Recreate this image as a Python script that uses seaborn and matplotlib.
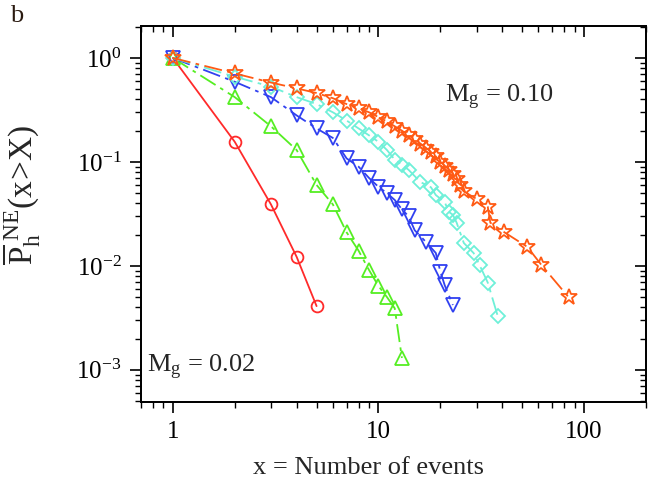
import numpy as np
import pandas as pd
import matplotlib
matplotlib.use("Agg")
import matplotlib.pyplot as plt
import seaborn as sns
from matplotlib import lines as mlines
from matplotlib.ticker import NullFormatter, FixedLocator

# ---- data ----
red_x = [1, 2, 3, 4, 5]
red_y = [1.0, 0.156, 0.039, 0.0122, 0.0041]

green_x = [1, 2, 3, 4, 5, 6, 7, 8, 9, 10, 11, 12, 13]
green_y = [1.0, 0.42, 0.22, 0.13, 0.060, 0.039, 0.021, 0.014, 0.0091, 0.0064, 0.0050, 0.0039, 0.0013]

blue_x = [1, 2, 3, 4, 5, 6, 7, 8, 9, 10, 11, 12, 13, 14, 15, 17, 19, 20, 21, 23]
blue_y = [1.0, 0.59, 0.42, 0.28, 0.21, 0.17, 0.108, 0.090, 0.070, 0.0575, 0.050, 0.043,
          0.035, 0.030, 0.022, 0.017, 0.0133, 0.0088, 0.0065, 0.0042]

cyan_x = [1, 2, 3, 4, 5, 6, 7, 8, 9, 10, 11, 12, 13, 14, 16, 18, 19, 21, 22, 23, 24, 26, 29, 31, 34, 38]
cyan_y = [1.0, 0.66, 0.53, 0.42, 0.36, 0.30, 0.25, 0.21, 0.18, 0.156, 0.13, 0.105, 0.094, 0.084,
          0.064, 0.057, 0.048, 0.041, 0.033, 0.031, 0.026, 0.0166, 0.0133, 0.0102, 0.0069, 0.0033]

star_x = [1, 2, 3, 4, 5, 6, 7, 8, 9, 10, 11, 12, 13, 14, 15, 16, 17, 18, 19, 20, 21, 22, 23,
          24, 25, 26, 30, 34, 35, 41, 53, 62, 84]
star_y = [1.0, 0.71, 0.58, 0.51, 0.46, 0.41, 0.36, 0.33, 0.30, 0.27, 0.245, 0.22, 0.20, 0.18,
          0.165, 0.15, 0.137, 0.125, 0.113, 0.100, 0.092, 0.084, 0.077, 0.068, 0.060, 0.052,
          0.044, 0.037, 0.026, 0.021, 0.0152, 0.0102, 0.0050]

series = [
    ("red", red_x, red_y, "#ff2a2a", "o", None, 8.5),
    ("green", green_x, green_y, "#55ee22", "^", (10, 3, 2, 3), 10),
    ("blue", blue_x, blue_y, "#3040f0", "v", (10, 3, 2, 3), 10),
    ("cyan", cyan_x, cyan_y, "#6ef0d8", "D", (10, 3, 2, 3), 7.5),
    ("star", star_x, star_y, "#ff5a14", "*", (10, 3, 2, 3), 12),
]

# ---- style ----
sns.set_theme(style="white")
plt.rcParams["font.family"] = ["Liberation Serif", "DejaVu Serif"]
plt.rcParams["mathtext.fontset"] = "custom"
plt.rcParams["mathtext.rm"] = "Liberation Serif"
plt.rcParams["mathtext.it"] = "Liberation Serif:italic"
plt.rcParams["mathtext.bf"] = "Liberation Serif:bold"
plt.rcParams["axes.unicode_minus"] = False

fig = plt.figure(figsize=(6.52, 4.88), dpi=100)
rect = [141 / 652, 1 - 402 / 488, 505 / 652, 376 / 488]
ax = fig.add_axes(rect)

for name, xs, ys, col, mk, dash, ms in series:
    df = pd.DataFrame({"x": xs, "y": ys})
    sns.lineplot(data=df, x="x", y="y", ax=ax, color=col, marker=mk, markersize=ms,
                 markerfacecolor="none", markeredgecolor=col, markeredgewidth=1.3,
                 linewidth=1.3, sort=False, estimator=None, legend=False)
    line = ax.lines[-1]
    if dash is not None:
        line.set_dashes(dash)
    else:
        line.set_linestyle("-")

XLIM = (0.7, 200)
YLIM = (4.9e-4, 2.03)
ax.set_xscale("log")
ax.set_yscale("log")

xmajor = [1, 10, 100]
xminor = [m * 10.0 ** e for e in range(-1, 3) for m in range(2, 10)]
ymajor = [10.0 ** e for e in range(-4, 1)]
yminor = [m * 10.0 ** e for e in range(-4, 1) for m in range(2, 10)]

ax.xaxis.set_major_locator(FixedLocator(xmajor))
ax.xaxis.set_minor_locator(FixedLocator(xminor))
ax.yaxis.set_major_locator(FixedLocator(ymajor))
ax.yaxis.set_minor_locator(FixedLocator(yminor))
ax.xaxis.set_minor_formatter(NullFormatter())
ax.yaxis.set_minor_formatter(NullFormatter())
ax.set_xticklabels(["1", "10", "100"])
ax.set_xlim(*XLIM)
ax.set_ylim(*YLIM)

for sp in ax.spines.values():
    sp.set_color("black")
    sp.set_linewidth(1.3)

ax.xaxis.set_ticks_position("bottom")
ax.yaxis.set_ticks_position("both")
ax.tick_params(which="major", direction="out", length=8, width=1.2, labelsize=18,
               colors="black", pad=6)
ax.tick_params(which="minor", direction="out", length=4.5, width=1.0, colors="black")

# twin x axis for the inward ticks along the top
axt = ax.twiny()
axt.set_xscale("log")
axt.xaxis.set_major_locator(FixedLocator(xmajor))
axt.xaxis.set_minor_locator(FixedLocator(xminor))
axt.xaxis.set_major_formatter(NullFormatter())
axt.xaxis.set_minor_formatter(NullFormatter())
axt.set_xlim(*XLIM)
axt.xaxis.set_ticks_position("top")
axt.tick_params(axis="x", which="major", direction="in", length=8, width=1.2, colors="black",
                top=True, labeltop=False)
axt.tick_params(axis="x", which="minor", direction="in", length=4.5, width=1.0, colors="black",
                top=True)
for sp in axt.spines.values():
    sp.set_color("black")
    sp.set_linewidth(1.3)

# right-hand ticks point inward
fig.canvas.draw()
for tk in ax.yaxis.get_major_ticks() + ax.yaxis.get_minor_ticks():
    tk.tick2line.set_marker(mlines.TICKLEFT)

ax.set_xlabel("x = Number of events", fontsize=19)
ax.xaxis.set_label_coords(0.45, -0.145)
ax.set_ylabel(r"$\overline{\mathrm{P}}_{\mathrm{h}}^{\ \mathrm{NE}}(\mathrm{x\!>\!X})$", fontsize=24)
ax.yaxis.set_label_coords(-0.195, 0.55)

ax.text(0.602, 0.81, r"$\mathrm{M}_{\mathrm{g}}$ = 0.10", transform=ax.transAxes,
        fontsize=19, va="center", ha="left")
ax.text(0.012, 0.093, r"$\mathrm{M}_{\mathrm{g}}$ = 0.02", transform=ax.transAxes,
        fontsize=19, va="center", ha="left")
fig.text(10 / 652, 1 - 16 / 488, "b", fontsize=19, va="center", ha="left", color="#2a1a10")

fig.savefig("out.png", dpi=100)
